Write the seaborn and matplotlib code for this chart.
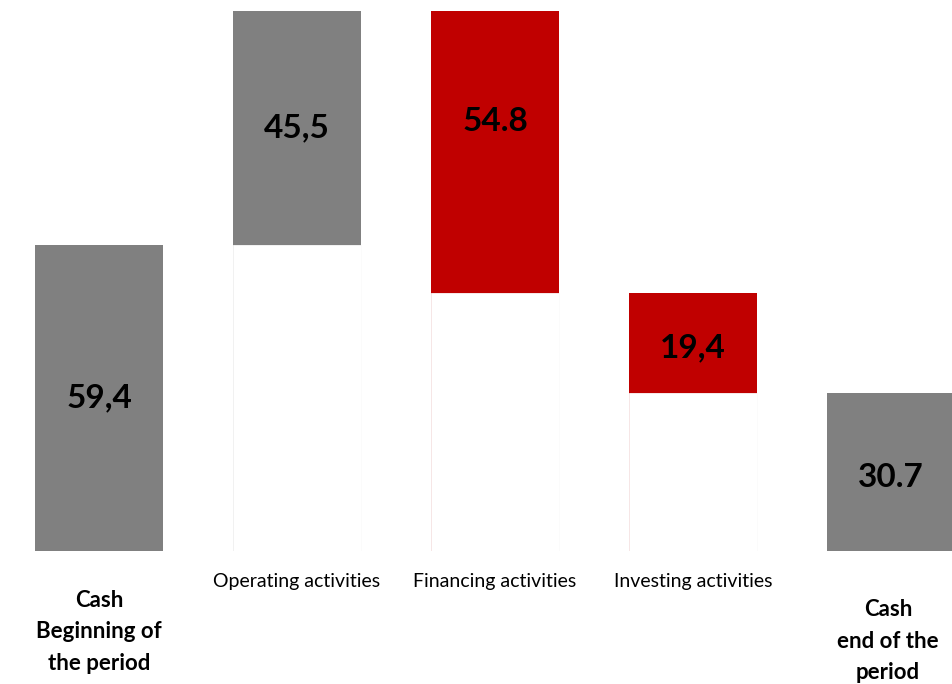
import matplotlib as mtl
mtl.use('Agg')
import matplotlib.pyplot as plt
import numpy as np
import pandas as pd
import seaborn as sns

# data
steps = ["Cash\nBeginning of\nthe period", "Operating activities", "Financing activities",
         "Investing activities", "Cash\nend of the\nperiod"]
changes = [59.4, 45.5, -54.8, -19.4, 30.7]
value_labels = ["59,4", "45,5", "54.8", "19,4", "30.7"]
is_total = [True, False, False, False, True]

GRAY = "#808080"
RED = "#C00000"

# waterfall bottoms / tops
bottoms, tops = [], []
running = 0.0
for ch, tot in zip(changes, is_total):
    if tot:
        bottoms.append(0.0)
        tops.append(ch)
        running = ch
    else:
        new = running + ch
        bottoms.append(min(running, new))
        tops.append(max(running, new))
        running = new

colors = [GRAY if (t or c > 0) else RED for c, t in zip(changes, is_total)]
df = pd.DataFrame({"step": steps, "top": tops, "bottom": bottoms})

sns.set_style("white")
plt.rcParams['font.family'] = ['Lato', 'DejaVu Sans']

fig = plt.figure(figsize=(9.52, 6.84), dpi=100)
ax = fig.add_axes([0, 133 / 684, 1, 551 / 684])

# coloured bars to the top, then white bars hide the part below the floating bar
sns.barplot(data=df, x="step", y="top", hue="step", palette=colors, width=0.646,
            legend=False, ax=ax, linewidth=0, saturation=1)
sns.barplot(data=df, x="step", y="bottom", color="white", width=0.646,
            legend=False, ax=ax, linewidth=0.6, edgecolor="#fbfbfb", saturation=1)

ax.set_xlim(-0.5, 4.308)
ax.set_ylim(0, 107)
ax.axis("off")

# value labels (slightly nudged like the original)
nudge = [0, 0, 6, -1, -1]
for i, (b, t, lab) in enumerate(zip(bottoms, tops, value_labels)):
    ax.text(i, (b + t) / 2 + nudge[i], lab, ha="center", va="center",
            fontsize=24, fontweight="bold", color="black")

# category labels
for i, (name, tot) in enumerate(zip(steps, is_total)):
    if tot:
        x = i if i == 0 else 3.985
        y = -7.6 if i == 0 else -9.4
        ax.text(x, y, name, ha="center", va="top", fontsize=16, color="black",
                fontweight="bold", linespacing=1.6, clip_on=False)
    else:
        ax.text(i, -4.3, name, ha="center", va="top", fontsize=14, color="black",
                clip_on=False)

fig.savefig("out.png", dpi=100)
